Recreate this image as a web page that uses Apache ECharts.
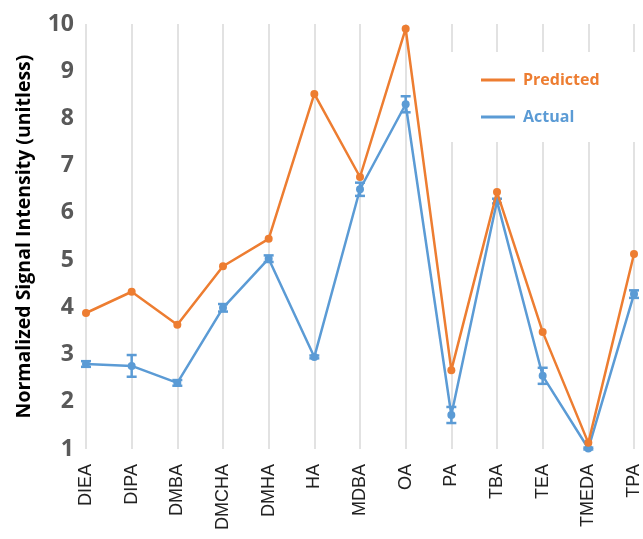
<!doctype html>
<html>
<head>
<meta charset="UTF-8">
<title>Predicted vs Actual</title>
<script src="https://cdn.jsdelivr.net/npm/echarts@6/dist/echarts.min.js"></script>
<style>
  html, body { margin: 0; padding: 0; background: #fff; }
  #chart { width: 643px; height: 539px; }
</style>
</head>
<body>
<div id="chart"></div>
<script>
// categories (amines)
var categories = ['DIEA', 'DIPA', 'DMBA', 'DMCHA', 'DMHA', 'HA', 'MDBA', 'OA', 'PA', 'TBA', 'TEA', 'TMEDA', 'TPA'];
// predicted signal
var predicted = [3.88, 4.33, 3.63, 4.87, 5.45, 8.52, 6.76, 9.9, 2.67, 6.44, 3.48, 1.13, 5.13];
// actual signal and its error (+/-)
var actual = [2.80, 2.76, 2.40, 3.99, 5.03, 2.95, 6.50, 8.30, 1.72, 6.25, 2.55, 1.01, 4.28];
var actualErr = [0.06, 0.23, 0.06, 0.08, 0.07, 0.03, 0.14, 0.17, 0.17, 0.05, 0.17, 0.02, 0.08];

var ORANGE = '#ED7D31';
var BLUE = '#5B9BD5';

var errData = [];
for (var i = 0; i < categories.length; i++) {
  errData.push([i, actual[i] - actualErr[i], actual[i] + actualErr[i]]);
}

var myChart = echarts.init(document.getElementById('chart'));

var option = {
  backgroundColor: '#fff',
  animation: false,
  grid: { left: 86, right: 4, top: 24, bottom: 90 },
  legend: {
    orient: 'vertical',
    left: 440,
    top: 52,
    padding: [17, 40, 14, 41],
    backgroundColor: '#fff',
    itemWidth: 34,
    itemHeight: 3,
    itemGap: 15,
    icon: 'rect',
    data: [
      { name: 'Predicted', textStyle: { color: ORANGE } },
      { name: 'Actual', textStyle: { color: BLUE } }
    ],
    textStyle: { fontFamily: 'Open Sans', fontWeight: 'bold', fontSize: 16, lineHeight: 22, padding: [0, 0, 0, 3] }
  },
  xAxis: {
    type: 'category',
    data: categories,
    boundaryGap: false,
    axisLine: { show: false },
    axisTick: { show: false },
    splitLine: { show: true, lineStyle: { color: '#d9d9d9', width: 1.5 } },
    axisLabel: {
      rotate: 90,
      margin: 15,
      fontSize: 18,
      color: '#222',
      fontFamily: 'Liberation Sans'
    }
  },
  yAxis: {
    type: 'value',
    min: 1,
    max: 10,
    interval: 1,
    name: 'Normalized Signal Intensity (unitless)',
    nameLocation: 'middle',
    nameGap: 52,
    nameTextStyle: { fontFamily: 'Open Sans', fontWeight: 'bold', fontSize: 19.5, color: '#000' },
    axisLine: { show: false },
    axisTick: { show: false },
    splitLine: { show: false },
    axisLabel: {
      margin: 12,
      fontSize: 23,
      fontWeight: 'bold',
      color: '#595959',
      fontFamily: 'Open Sans'
    }
  },
  series: [
    {
      name: 'Predicted',
      type: 'line',
      data: predicted,
      color: ORANGE,
      symbol: 'circle',
      symbolSize: 8,
      lineStyle: { width: 2.5, color: ORANGE },
      itemStyle: { color: ORANGE },
      z: 3
    },
    {
      name: 'Actual',
      type: 'line',
      data: actual,
      color: BLUE,
      symbol: 'circle',
      symbolSize: 8,
      lineStyle: { width: 2.5, color: BLUE },
      itemStyle: { color: BLUE },
      z: 2
    },
    {
      name: 'ActualErr',
      type: 'custom',
      data: errData,
      encode: { x: 0, y: [1, 2] },
      z: 2,
      renderItem: function (params, api) {
        var x = api.value(0);
        var lo = api.coord([x, api.value(1)]);
        var hi = api.coord([x, api.value(2)]);
        var w = 5;
        var st = { stroke: BLUE, lineWidth: 2.5 };
        return {
          type: 'group',
          children: [
            { type: 'line', shape: { x1: lo[0], y1: lo[1], x2: hi[0], y2: hi[1] }, style: st },
            { type: 'line', shape: { x1: lo[0] - w, y1: lo[1], x2: lo[0] + w, y2: lo[1] }, style: st },
            { type: 'line', shape: { x1: hi[0] - w, y1: hi[1], x2: hi[0] + w, y2: hi[1] }, style: st }
          ]
        };
      }
    }
  ]
};

myChart.setOption(option);
</script>
</body>
</html>
